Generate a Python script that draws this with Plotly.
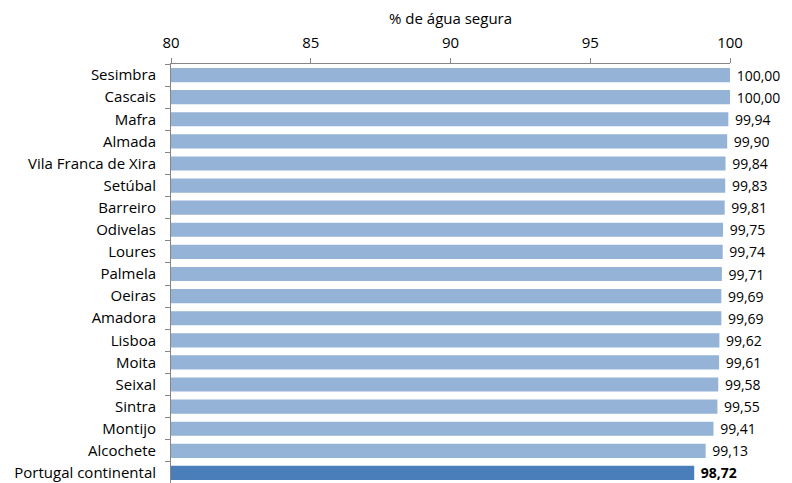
import plotly.graph_objects as go

categories = ["Sesimbra", "Cascais", "Mafra", "Almada", "Vila Franca de Xira", "Setúbal",
              "Barreiro", "Odivelas", "Loures", "Palmela", "Oeiras", "Amadora", "Lisboa",
              "Moita", "Seixal", "Sintra", "Montijo", "Alcochete", "Portugal continental"]
values = [100.00, 100.00, 99.94, 99.90, 99.84, 99.83, 99.81, 99.75, 99.74, 99.71,
          99.69, 99.69, 99.62, 99.61, 99.58, 99.55, 99.41, 99.13, 98.72]
x_ticks = [80, 85, 90, 95, 100]
axis_title = "% de água segura"

colors = ["#95B3D7"] * (len(values) - 1) + ["#4A7EBB"]
labels = []
for i, v in enumerate(values):
    s = f"{v:.2f}".replace(".", ",")
    labels.append("\u00a0" + (f"<b>{s}</b>" if i == len(values) - 1 else s))

font = "Open Sans, sans-serif"

fig = go.Figure()
fig.add_trace(go.Bar(
    y=categories, x=values, base=0, orientation="h",
    marker=dict(color=colors, line=dict(width=0)),
    text=labels, textposition="outside", cliponaxis=False, constraintext="none",
    textfont=dict(size=14, color="#000000", family=font),
    hoverinfo="skip",
))

fig.update_layout(
    width=792, height=483,
    margin=dict(l=163, r=70, t=56, b=7),
    paper_bgcolor="white", plot_bgcolor="white",
    bargap=0.36,
    showlegend=False,
    font=dict(family=font, size=15, color="#000000"),
    xaxis=dict(
        side="top", range=[80, 100], tickvals=x_ticks,
        ticktext=[str(t) for t in x_ticks], automargin=False,
        showgrid=False, zeroline=False,
        showline=True, linecolor="#868686", linewidth=1,
        ticks="outside", ticklen=5, tickcolor="#868686",
        ticklabelstandoff=4,
        tickfont=dict(size=15, family=font),
    ),
    yaxis=dict(
        autorange="reversed", showgrid=False, zeroline=False, automargin=False,
        showline=True, linecolor="#868686", linewidth=1,
        ticks="outside", ticklen=5, tickcolor="#868686", tickson="boundaries",
        ticklabelstandoff=11,
        tickfont=dict(size=15, family=font),
    ),
    annotations=[dict(
        text=axis_title, xref="paper", yref="paper", x=0.5, y=1,
        yanchor="middle", xanchor="center", yshift=46, showarrow=False,
        font=dict(size=15, family=font, color="#000000"),
    )],
)

fig.write_html("out.html", default_width="792px", default_height="483px")
